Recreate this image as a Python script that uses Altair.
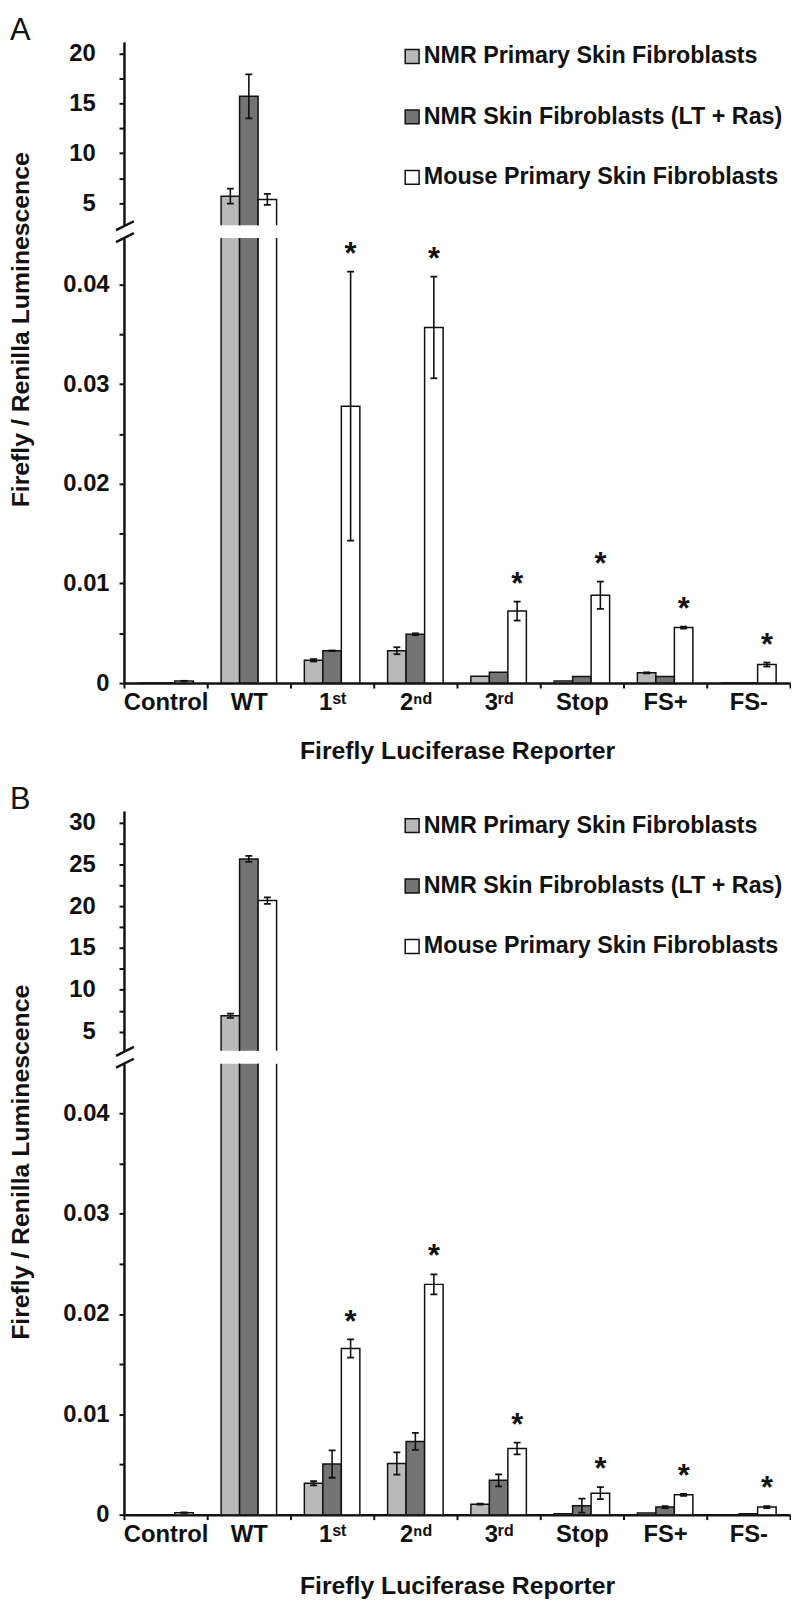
import altair as alt
import pandas as pd

FONT = "Liberation Sans"
INK = "#111111"

categories = ["Control", "WT", "1ˢᵗ", "2ⁿᵈ", "3ʳᵈ", "Stop", "FS+", "FS-"]
series = ["NMR Primary Skin Fibroblasts",
          "NMR Skin Fibroblasts (LT + Ras)",
          "Mouse Primary Skin Fibroblasts"]
colors = ["#b9b9b9", "#747474", "#ffffff"]

# ---- Panel A values (mean) ----
a_nmr_primary = [0, 5.7, 0.00229, 0.00325, 0.0007, 0.0002, 0.00103, 0]
a_nmr_ltras = [0, 15.7, 0.00325, 0.0049, 0.0011, 0.00067, 0.00067, 0]
a_mouse = [0.0002, 5.37, 0.0278, 0.0357, 0.00723, 0.00882, 0.00557, 0.00186]
# ---- Panel A error (+/-) ----
a_err_nmr_primary = [0, 0.75, 0.00012, 0.00035, 0, 0, 0.00005, 0]
a_err_nmr_ltras = [0, 2.2, 0.00003, 0.0001, 0, 0, 0, 0]
a_err_mouse = [0.00003, 0.55, 0.0135, 0.0051, 0.00095, 0.00137, 0.0001, 0.0002]
a_star = [False, False, True, True, True, True, True, True]

# ---- Panel B values (mean) ----
b_nmr_primary = [0, 6.9, 0.00313, 0.0051, 0.00105, 0.0001, 0.00017, 0]
b_nmr_ltras = [0, 25.66, 0.00504, 0.0073, 0.00342, 0.0009, 0.00076, 0.0001]
b_mouse = [0.0002, 20.67, 0.01656, 0.02295, 0.00659, 0.00214, 0.00198, 0.00076]
# ---- Panel B error (+/-) ----
b_err_nmr_primary = [0, 0.25, 0.0002, 0.0011, 0.00005, 0, 0, 0]
b_err_nmr_ltras = [0, 0.35, 0.00136, 0.00085, 0.0006, 0.0007, 0.0001, 0]
b_err_mouse = [0.00003, 0.4, 0.0009, 0.001, 0.00058, 0.0006, 0.0001, 0.0001]
b_star = [False, False, True, True, True, True, True, True]

a_upper_ticks = [5, 7.5, 10, 12.5, 15, 17.5, 20]
b_upper_ticks = [5, 7.5, 10, 12.5, 15, 17.5, 20, 22.5, 25, 27.5, 30]
lower_ticks = [0, 0.005, 0.01, 0.015, 0.02, 0.025, 0.03, 0.035, 0.04]


def make_df(vals, errs, stars):
    rows = []
    for si, s in enumerate(series):
        for ci, c in enumerate(categories):
            v = vals[si][ci]
            e = errs[si][ci]
            rows.append(dict(cat=c, series=s, value=v, lo=v - e, hi=v + e,
                             err=e, star=bool(stars[ci]) and si == 2))
    return pd.DataFrame(rows)


dfA = make_df([a_nmr_primary, a_nmr_ltras, a_mouse],
              [a_err_nmr_primary, a_err_nmr_ltras, a_err_mouse], a_star)
dfB = make_df([b_nmr_primary, b_nmr_ltras, b_mouse],
              [b_err_nmr_primary, b_err_nmr_ltras, b_err_mouse], b_star)

W = 672


def section(df, ydom, yaxis, xaxis, height, legend, with_stars, extra=None):
    xs = alt.Scale(domain=categories, paddingInner=0, paddingOuter=0)
    x = alt.X("cat:N", sort=categories, scale=xs, axis=xaxis)
    xo = alt.XOffset("series:N", sort=series,
                     scale=alt.Scale(domain=series, paddingInner=0, paddingOuter=0.75))
    ys = alt.Scale(domain=ydom, zero=False, nice=False)
    base = alt.Chart(df)
    bars = base.mark_bar(stroke=INK, strokeWidth=1.5, clip=True, opacity=1).encode(
        x=x, xOffset=xo,
        y=alt.Y("value:Q", scale=ys, axis=yaxis),
        y2=alt.datum(0),
        color=alt.Color("series:N", sort=series,
                        scale=alt.Scale(domain=series, range=colors), legend=legend),
    )
    ef = base.transform_filter("datum.err > 0")
    rule = ef.mark_rule(clip=True, color=INK, strokeWidth=1.6).encode(
        x=x, xOffset=xo, y=alt.Y("lo:Q", scale=ys, axis=yaxis), y2="hi:Q")
    cap_lo = ef.mark_tick(clip=True, color=INK, thickness=1.8, size=7, opacity=1).encode(
        x=x, xOffset=xo, y=alt.Y("lo:Q", scale=ys, axis=yaxis))
    cap_hi = ef.mark_tick(clip=True, color=INK, thickness=1.8, size=7, opacity=1).encode(
        x=x, xOffset=xo, y=alt.Y("hi:Q", scale=ys, axis=yaxis))
    lays = [bars, rule, cap_lo, cap_hi]
    if with_stars:
        st = base.transform_filter("datum.star").mark_text(
            text="*", font=FONT, fontSize=31, fontWeight="bold", baseline="alphabetic",
            dy=-8, clip=True, color=INK).encode(
            x=x, xOffset=xo, y=alt.Y("hi:Q", scale=ys, axis=yaxis))
        lays.append(st)
    if extra:
        lays.extend(extra)
    return alt.layer(*lays).properties(width=W, height=height)


def slashes(gap_center_rel):
    one = pd.DataFrame({"k": [0]})
    out = []
    for d in (-6, 6):
        c = gap_center_rel + d
        out.append(alt.Chart(one).mark_rule(color=INK, strokeWidth=2.5, clip=False).encode(
            x=alt.value(-8), x2=alt.value(10), y=alt.value(c + 4.5), y2=alt.value(c - 4.5)))
    return out


def panel_label(t):
    return alt.Chart(pd.DataFrame({"t": [t]})).mark_text(
        font=FONT, fontSize=31, fontWeight="normal", align="left", baseline="alphabetic",
        color=INK, clip=False).encode(text="t:N", x=alt.value(-115), y=alt.value(-2))


def upper_axis(ticks):
    return alt.Axis(values=ticks,
                    labelExpr="datum.value % 5 == 0 ? datum.label : ''",
                    tickSize=5, tickWidth=2, tickColor=INK, domainColor=INK, domainWidth=2.5,
                    labelFont=FONT, labelFontSize=24, labelFontWeight="bold", labelColor=INK,
                    labelPadding=24, grid=False, title=None, labelFlush=False,
                    labelOverlap=False)


def lower_axis(title_y):
    return alt.Axis(values=lower_ticks,
                    labelExpr="abs(datum.value*100 - round(datum.value*100)) < 0.001 ? "
                              "(datum.value == 0 ? '0' : format(datum.value, '.2f')) : ''",
                    tickSize=5, tickWidth=2, tickColor=INK, domainColor=INK, domainWidth=2.5,
                    labelFont=FONT, labelFontSize=24, labelFontWeight="bold", labelColor=INK,
                    labelPadding=10, grid=False, labelFlush=False, labelOverlap=False,
                    title="Firefly / Renilla Luminescence", titleX=-104, titleY=title_y,
                    titleAngle=270, titleAlign="center", titleBaseline="middle",
                    titleFont=FONT, titleFontSize=25, titleFontWeight="bold", titleColor=INK)


def x_axis(title_y):
    return alt.Axis(tickBand="extent", labelAngle=0, tickSize=5, tickWidth=2, tickColor=INK,
                    domainColor=INK, domainWidth=2.5, labelFont=FONT, labelFontSize=24,
                    labelFontWeight="bold", labelColor=INK, labelPadding=3,
                    title="Firefly Luciferase Reporter", titleFont=FONT, titleFontSize=25,
                    titleFontWeight="bold", titleColor=INK, titleY=title_y,
                    titleBaseline="middle")


def legend():
    return alt.Legend(orient="none", legendX=279, legendY=3, title=None, direction="vertical",
                      symbolType="square", symbolSize=196, symbolStrokeColor=INK,
                      symbolStrokeWidth=1.5, labelFont=FONT, labelFontSize=23.5,
                      labelFontWeight="bold", labelColor=INK, rowPadding=36, labelOffset=0,
                      labelLimit=500, padding=0)


# Panel A
A_up_h = 185
A_up = section(dfA, [2.79, 21.16], upper_axis(a_upper_ticks), None, A_up_h, legend(), False,
               extra=slashes(A_up_h + 6.5) + [panel_label("A")])
A_low = section(dfA, [0, 0.04467], lower_axis(92), x_axis(68), 449, None, True)
panelA = alt.vconcat(A_up, A_low, spacing=13, bounds="flush").resolve_scale(
    y="independent", color="independent")

# Panel B
B_up_h = 242
B_up = section(dfB, [2.71, 31.39], upper_axis(b_upper_ticks), None, B_up_h, legend(), False,
               extra=slashes(B_up_h + 6.5) + [panel_label("B")])
B_low = section(dfB, [0, 0.04494], lower_axis(99), x_axis(72), 455, None, True)
panelB = alt.vconcat(B_up, B_low, spacing=13, bounds="flush").resolve_scale(
    y="independent", color="independent")

chart = alt.vconcat(panelA, panelB, spacing=21).resolve_scale(
    y="independent", color="independent").properties(
    padding=0, background="white").configure_view(stroke=None)

chart.save("out.html", embed_options={"renderer": "svg", "actions": False})
